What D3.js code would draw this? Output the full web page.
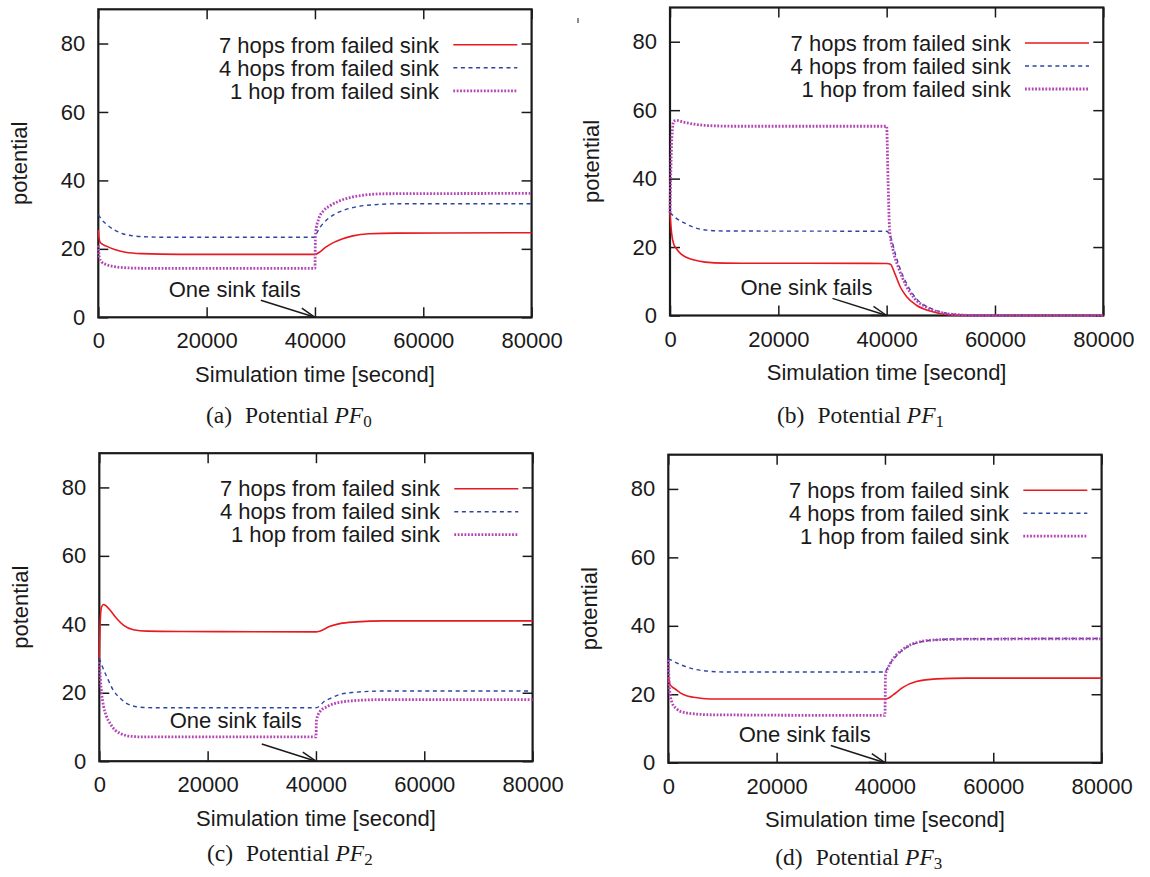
<!doctype html>
<html>
<head>
<meta charset="utf-8">
<script src="https://cdn.jsdelivr.net/npm/d3@7/dist/d3.min.js"></script>
<style>
  body { margin: 0; background: #fff; }
  svg { display: block; background: #fff; }
  text { font-family: "Liberation Sans", Arial, sans-serif; fill: #1a1a1a; }
  text.caption { font-family: "Liberation Serif", "Times New Roman", serif; }
</style>
</head>
<body>
<svg width="1150" height="877"></svg>
<script>

// ---- data: [simulation time (s), potential] ----
var pf0Hop7 = [[0,25.5],[150,23],[400,21.8],[1500,20.8],[3000,19.8],[5000,19.0],[8000,18.6],[15000,18.4],[40000,18.4],[41000,19.2],[42000,20.5],[43500,21.9],[45000,22.9],[47000,23.8],[50000,24.4],[55000,24.6],[80000,24.7]];
var pf0Hop4 = [[0,30],[500,28.8],[1500,27.2],[3000,25.5],[5000,24.2],[8000,23.6],[12000,23.4],[40000,23.4],[40300,24.5],[41000,26.4],[42000,28.2],[43500,30.0],[45500,31.4],[48000,32.4],[51000,32.9],[56000,33.2],[80000,33.2]];
var pf0Hop1 = [[0,21],[200,17.5],[600,16.2],[1500,15.4],[3000,14.8],[6000,14.4],[10000,14.3],[40000,14.3],[40100,24.5],[40700,28.8],[41500,31],[42800,32.6],[44500,34],[46500,35],[49000,35.7],[53000,36.1],[80000,36.2]];

var pf1Hop7 = [[0,30],[300,24],[700,20.8],[1200,19.5],[2000,18],[3000,17],[4500,16.2],[6500,15.6],[10000,15.3],[40000,15.2],[40700,15.0],[41500,12.3],[42500,8.4],[43700,5.5],[45500,3.0],[48000,1.3],[51000,0.3],[54000,0],[80000,0]];
var pf1Hop4 = [[0,30],[1000,28.6],[2800,26.9],[4500,25.7],[6500,25.0],[10000,24.7],[40000,24.6],[40500,23.8],[41000,21.7],[41600,18.0],[42500,13.6],[43700,9.3],[45500,4.9],[48000,2.2],[51000,0.7],[54000,0.1],[56000,0],[80000,0]];
var pf1Hop1 = [[0,30],[150,42],[350,52],[700,56.8],[1200,57],[2500,56.5],[4500,55.9],[7000,55.5],[12000,55.3],[40000,55.3],[40250,40],[40550,25],[41200,19],[42150,14.1],[43400,9.3],[45200,4.9],[47400,2.4],[50500,0.7],[53500,0.2],[56000,0],[80000,0]];

var pf2Hop7 = [[0,30],[150,40],[400,45],[800,45.8],[1300,45.3],[2000,44.1],[3200,41.7],[4500,39.7],[6300,38.4],[8800,38.0],[15000,37.9],[40000,37.8],[40700,38.0],[42600,39.4],[44400,40.2],[47500,40.7],[52500,41.0],[80000,41.0]];
var pf2Hop4 = [[0,30.1],[600,27.5],[1400,24.6],[2600,20.7],[3900,18.3],[5700,16.4],[8200,15.7],[12000,15.6],[40000,15.6],[40800,16.3],[41400,17.3],[42600,18.3],[44400,19.5],[46900,20.1],[52500,20.5],[80000,20.5]];
var pf2Hop1 = [[0,29],[200,24],[450,19.5],[800,16],[1300,13.2],[2000,11],[3000,9],[3900,8.1],[5700,7.3],[8000,7.1],[40000,7.1],[40100,12],[40700,14.4],[42000,15.9],[43800,17.0],[46300,17.6],[52500,18.0],[80000,18.0]];

var pf3Hop7 = [[0,25],[300,23],[800,22],[1200,21.6],[2200,20.4],[3500,19.5],[4700,19.1],[7700,18.6],[40000,18.6],[40800,19.0],[41500,19.8],[43400,22.1],[45800,23.7],[49500,24.5],[55000,24.7],[80000,24.7]];
var pf3Hop4 = [[0,30.4],[1000,29.6],[2200,28.7],[4600,27.4],[7700,26.7],[11000,26.5],[40000,26.5],[40300,27.2],[40600,28.1],[41500,30.1],[43400,33.0],[45800,35.0],[49500,35.9],[55000,36.2],[80000,36.3]];
var pf3Hop1 = [[0,30],[200,22],[700,17.5],[1500,15.8],[2200,15],[4600,14.3],[8000,14.0],[40000,13.8],[40100,25.7],[40600,27.8],[41500,30.3],[43400,33.2],[45800,35.1],[49500,35.9],[55000,36.1],[80000,36.2]];

var seriesNames = ["7 hops from failed sink", "4 hops from failed sink", "1 hop from failed sink"];
var xTicks = [0, 20000, 40000, 60000, 80000];
var yTicks = [0, 20, 40, 60, 80];
var captionLetters = ["(a)", "(b)", "(c)", "(d)"];
var captionSubs = ["0", "1", "2", "3"];
var noteText = "One sink fails";
var noteAt = [[13000, 6], [13000, 6], [13000, 9.8], [13000, 6]];
var arrowFrom = [30000, 5];
var arrowTo = [40000, 0];

// ---- layout ----
var W = 433.3, H = 308;
var panels = [
  {left: 98.3, top: 9.3, capDy: 105.4, series: [pf0Hop7, pf0Hop4, pf0Hop1]},
  {left: 670, top: 7.5, capDy: 107, series: [pf1Hop7, pf1Hop4, pf1Hop1]},
  {left: 99.3, top: 453.2, capDy: 100.3, series: [pf2Hop7, pf2Hop4, pf2Hop1]},
  {left: 668.3, top: 454.7, capDy: 102, series: [pf3Hop7, pf3Hop4, pf3Hop1]}
];
var lineStyles = [
  {color: "#e8191f", width: 1.6, dash: null},
  {color: "#2a46a2", width: 1.4, dash: "4,3.6"},
  {color: "#b445b5", width: 2.8, dash: "1.8,1.6"}
];
var ink = "#1a1a1a";

var svg = d3.select("svg");

// small stray mark in the original
svg.append("line").attr("x1", 578).attr("x2", 578).attr("y1", 18).attr("y2", 23)
   .attr("stroke", ink).attr("stroke-width", 1);

panels.forEach(drawPanel);

function styleAxis(g) {
  g.select(".domain").remove();
  g.selectAll(".tick line").attr("stroke", ink).attr("stroke-width", 1.5);
  g.attr("font-size", 22).attr("font-family", "Liberation Sans, Arial, sans-serif");
}

function drawPanel(p, i) {
  var g = svg.append("g").attr("transform", "translate(" + p.left + "," + p.top + ")");
  var x = d3.scaleLinear().domain([0, 80000]).range([0, W]);
  var y = d3.scaleLinear().domain([0, 90]).range([H, 0]);

  // tics on all four sides, pointing inward
  g.append("g").attr("transform", "translate(0," + H + ")")
   .call(d3.axisBottom(x).tickValues(xTicks).tickSize(-10).tickPadding(15.4).tickFormat(d3.format("d")))
   .call(styleAxis);
  g.append("g")
   .call(d3.axisTop(x).tickValues(xTicks).tickSize(-10).tickFormat(""))
   .call(styleAxis);
  g.append("g")
   .call(d3.axisLeft(y).tickValues(yTicks).tickSize(-10).tickPadding(13))
   .call(styleAxis);
  g.append("g").attr("transform", "translate(" + W + ",0)")
   .call(d3.axisRight(y).tickValues(yTicks).tickSize(-10).tickFormat(""))
   .call(styleAxis);

  // border
  g.append("rect").attr("width", W).attr("height", H)
   .attr("fill", "none").attr("stroke", ink).attr("stroke-width", 2.2);

  // curves
  var line = d3.line()
               .x(function(d) { return x(d[0]); })
               .y(function(d) { return y(d[1]); })
               .curve(d3.curveMonotoneX);
  p.series.forEach(function(s, j) {
    var st = lineStyles[j];
    g.append("path")
     .attr("d", line(s))
     .attr("fill", "none")
     .attr("stroke", st.color)
     .attr("stroke-width", st.width)
     .attr("stroke-dasharray", st.dash);
  });

  // legend
  seriesNames.forEach(function(name, j) {
    var st = lineStyles[j];
    var ly = 35.5 + 23 * j;
    g.append("text").attr("x", 340.7).attr("y", ly + 7.8)
     .attr("text-anchor", "end").attr("font-size", 22).text(name);
    g.append("line").attr("x1", 355).attr("x2", 419).attr("y1", ly).attr("y2", ly)
     .attr("stroke", st.color).attr("stroke-width", st.width)
     .attr("stroke-dasharray", st.dash);
  });

  // annotation with arrow
  g.append("text").attr("x", x(noteAt[i][0])).attr("y", y(noteAt[i][1]))
   .attr("font-size", 22).text(noteText);
  var x0 = x(arrowFrom[0]), y0 = y(arrowFrom[1]), x1 = x(arrowTo[0]), y1 = y(arrowTo[1]);
  g.append("line").attr("x1", x0).attr("y1", y0).attr("x2", x1).attr("y2", y1)
   .attr("stroke", ink).attr("stroke-width", 1.5);
  var ang = Math.atan2(y1 - y0, x1 - x0), hl = 16, ha = 0.3;
  [ang + Math.PI - ha, ang + Math.PI + ha].forEach(function(a) {
    g.append("line").attr("x1", x1).attr("y1", y1)
     .attr("x2", x1 + hl * Math.cos(a)).attr("y2", y1 + hl * Math.sin(a))
     .attr("stroke", ink).attr("stroke-width", 1.5);
  });

  // axis titles
  g.append("text").attr("x", W / 2).attr("y", H + 64.4)
   .attr("text-anchor", "middle").attr("font-size", 22).text("Simulation time [second]");
  g.append("text").attr("transform", "translate(-71.5," + (H / 2) + ") rotate(-90)")
   .attr("text-anchor", "middle").attr("font-size", 22).text("potential");

  // caption
  var cap = g.append("text").attr("class", "caption")
             .attr("x", 190.5).attr("y", H + p.capDy)
             .attr("text-anchor", "middle").attr("font-size", 23.5);
  cap.append("tspan").text(captionLetters[i]);
  cap.append("tspan").attr("dx", 13).text("Potential ");
  cap.append("tspan").attr("font-style", "italic").text("PF");
  cap.append("tspan").attr("font-size", 17).attr("dy", 4).text(captionSubs[i]);
}

</script>
</body>
</html>
